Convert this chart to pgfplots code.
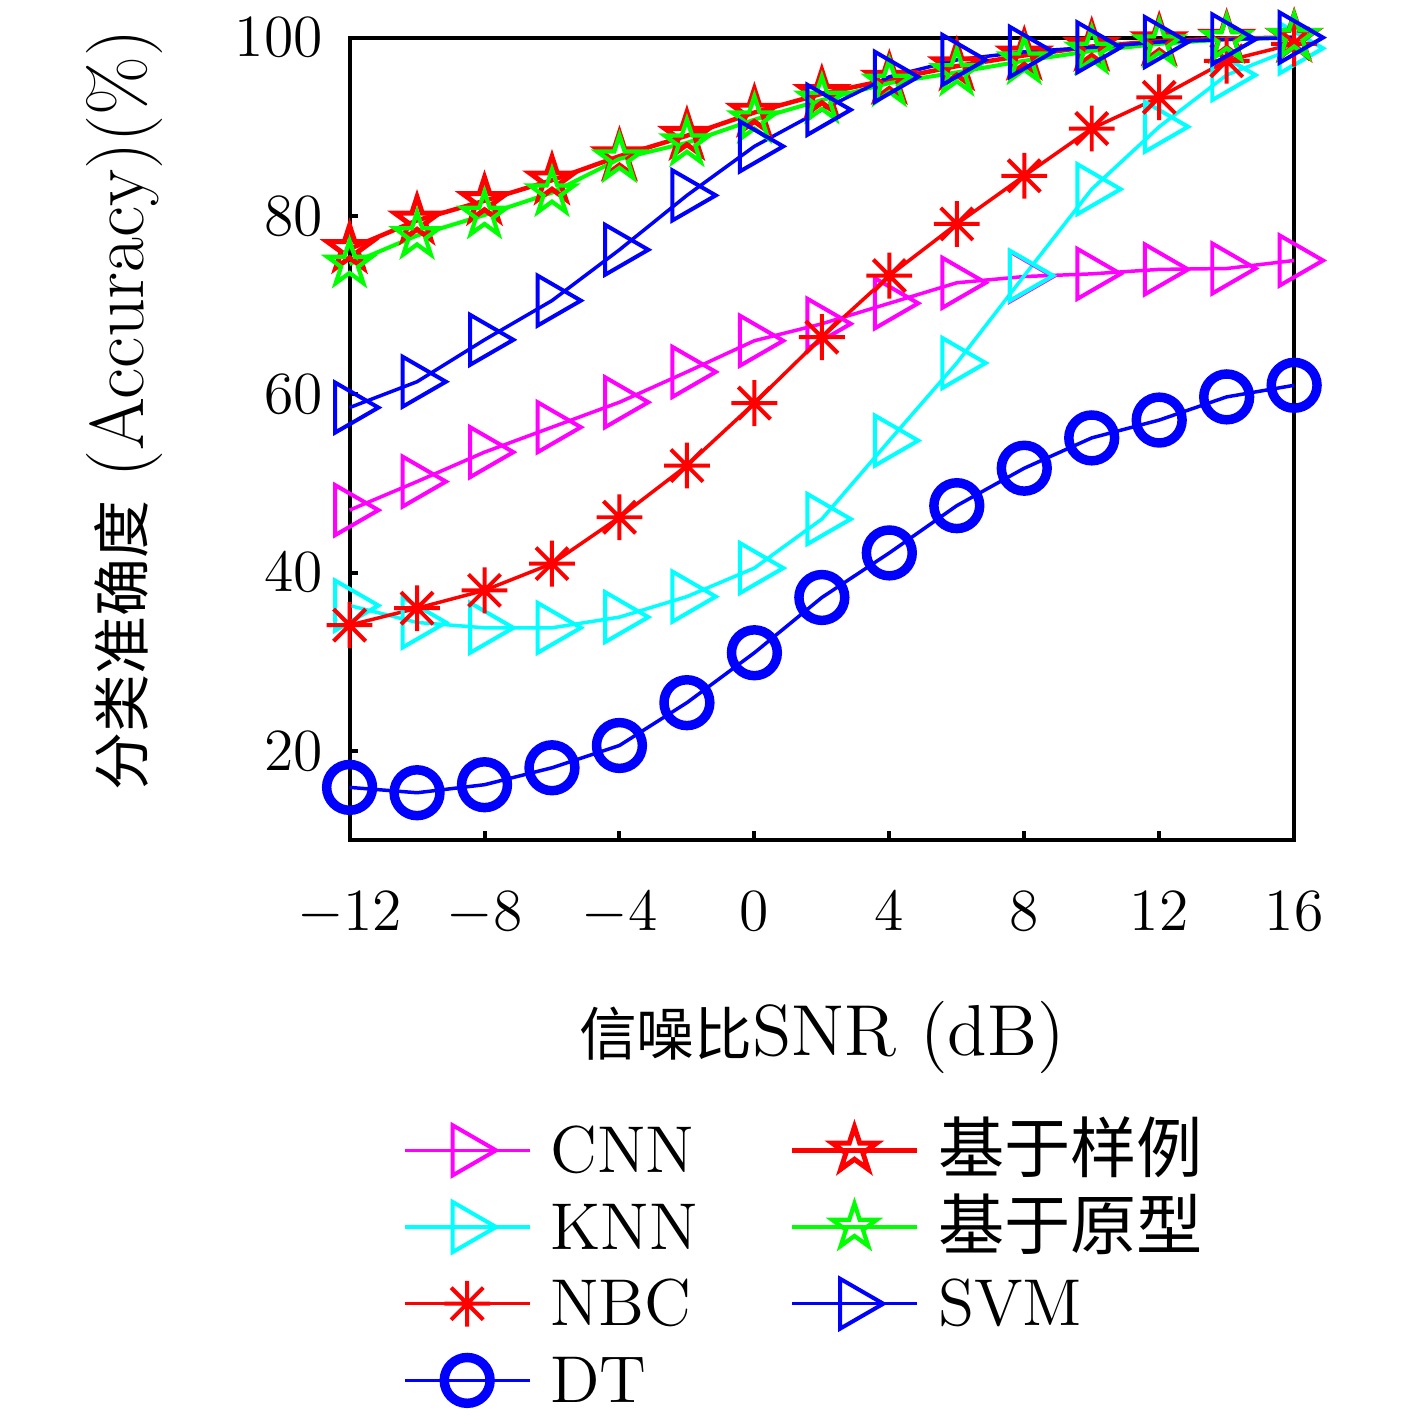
\documentclass[border=0pt]{standalone}
\usepackage{fontspec}
\usepackage{pgfplots}
\pgfplotsset{compat=1.18}
\newfontfamily\cjk{Noto Sans CJK SC}
\newfontfamily\cjks[Scale=0.8]{Noto Sans CJK SC}
\newfontfamily\cjky[Scale=0.76]{Noto Sans CJK SC}
\definecolor{mag}{rgb}{1,0,1}
\definecolor{cyn}{rgb}{0,1,1}
\definecolor{grn}{rgb}{0,1,0}
\definecolor{blu}{rgb}{0,0,1}
\definecolor{rd}{rgb}{1,0,0}

\pgfdeclareplotmark{ast8}{%
  \pgfpathmoveto{\pgfqpoint{-\pgfplotmarksize}{0pt}}\pgfpathlineto{\pgfqpoint{\pgfplotmarksize}{0pt}}%
  \pgfpathmoveto{\pgfqpoint{0pt}{-\pgfplotmarksize}}\pgfpathlineto{\pgfqpoint{0pt}{\pgfplotmarksize}}%
  \pgfpathmoveto{\pgfqpoint{-0.7\pgfplotmarksize}{-0.7\pgfplotmarksize}}\pgfpathlineto{\pgfqpoint{0.7\pgfplotmarksize}{0.7\pgfplotmarksize}}%
  \pgfpathmoveto{\pgfqpoint{-0.7\pgfplotmarksize}{0.7\pgfplotmarksize}}\pgfpathlineto{\pgfqpoint{0.7\pgfplotmarksize}{-0.7\pgfplotmarksize}}%
  \pgfusepathqstroke}

\pgfdeclareplotmark{pent}{%
  \pgfpathmoveto{\pgfqpointpolar{90}{\pgfplotmarksize}}%
  \pgfpathlineto{\pgfqpointpolar{126}{0.382\pgfplotmarksize}}%
  \pgfpathlineto{\pgfqpointpolar{162}{\pgfplotmarksize}}%
  \pgfpathlineto{\pgfqpointpolar{198}{0.382\pgfplotmarksize}}%
  \pgfpathlineto{\pgfqpointpolar{234}{\pgfplotmarksize}}%
  \pgfpathlineto{\pgfqpointpolar{270}{0.382\pgfplotmarksize}}%
  \pgfpathlineto{\pgfqpointpolar{306}{\pgfplotmarksize}}%
  \pgfpathlineto{\pgfqpointpolar{342}{0.382\pgfplotmarksize}}%
  \pgfpathlineto{\pgfqpointpolar{18}{\pgfplotmarksize}}%
  \pgfpathlineto{\pgfqpointpolar{54}{0.382\pgfplotmarksize}}%
  \pgfpathclose
  \pgfusepathqstroke}

\pgfplotsset{
  scnn/.style={mag, line width=0.7pt, mark=triangle, mark size=5.8pt, mark options={rotate=-90, solid, line width=0.8pt}},
  sknn/.style={cyn, line width=0.7pt, mark=triangle, mark size=5.8pt, mark options={rotate=-90, solid, line width=0.8pt}},
  snbc/.style={rd, line width=0.7pt, mark=ast8, mark size=4.6pt, mark options={solid, line width=0.8pt}},
  sdt/.style={blu, line width=0.7pt, mark=o, mark size=4.6pt, mark options={solid, line width=1.9pt}},
  sex/.style={rd, line width=0.9pt, mark=pent, mark size=4.7pt, mark options={solid, line width=1.0pt}},
  spro/.style={grn, line width=0.8pt, mark=pent, mark size=4.7pt, mark options={solid, line width=0.85pt}},
  ssvm/.style={blu, line width=0.7pt, mark=triangle, mark size=5.8pt, mark options={rotate=-90, solid, line width=0.8pt}},
}

\pgfplotstableread{
x y
-12 47.0
-10 50.2
-8 53.5
-6 56.3
-4 59.1
-2 62.5
0 66.0
2 67.9
4 70.2
6 72.5
8 73.2
10 73.5
12 74.0
14 74.1
16 75.0
}\cnn
\pgfplotstableread{
x y
-12 36.3
-10 34.4
-8 33.8
-6 33.8
-4 35.0
-2 37.3
0 40.5
2 46.0
4 54.8
6 63.5
8 73.3
10 83.0
12 90.0
14 95.8
16 98.8
}\knn
\pgfplotstableread{
x y
-12 34.1
-10 36.0
-8 38.0
-6 41.0
-4 46.2
-2 52.0
0 59.0
2 66.4
4 73.3
6 79.1
8 84.5
10 89.8
12 93.3
14 97.4
16 99.3
}\nbc
\pgfplotstableread{
x y
-12 15.9
-10 15.3
-8 16.2
-6 18.1
-4 20.6
-2 25.4
0 31.0
2 37.2
4 42.2
6 47.5
8 51.7
10 55.1
12 57.1
14 59.7
16 61.0
}\dt
\pgfplotstableread{
x y
-12 76.3
-10 79.5
-8 81.7
-6 84.0
-4 86.7
-2 89.0
0 91.6
2 93.7
4 95.3
6 96.8
8 98.0
10 99.0
12 99.6
14 99.9
16 100
}\exem
\pgfplotstableread{
x y
-12 74.6
-10 77.8
-8 80.1
-6 82.6
-4 86.4
-2 88.2
0 90.8
2 93.0
4 94.9
6 96.1
8 97.4
10 98.5
12 99.3
14 99.8
16 100
}\proto
\pgfplotstableread{
x y
-12 58.5
-10 61.4
-8 66.1
-6 70.5
-4 76.2
-2 82.3
0 87.8
2 91.9
4 95.6
6 97.5
8 98.4
10 98.9
12 99.5
14 99.8
16 100
}\svm

\begin{document}
\fontsize{13pt}{15.6pt}\selectfont
\begin{tikzpicture}
\begin{axis}[
  name=ax, at={(0,0)}, anchor=south west,
  scale only axis, width=6.666cm, height=5.663cm,
  xmin=-12, xmax=16, ymin=10, ymax=100,
  xtick={-12,-8,...,16}, ytick={20,40,...,100},
  tick pos=left, tick align=inside, major tick length=0.06cm,
  every tick/.style={black, line width=0.8pt},
  axis line style={line width=0.8pt},
  clip=false,
  xticklabel style={yshift=-0.21cm},
  yticklabel style={xshift=-0.03cm},
  xlabel={{\cjks 信噪比}SNR (dB)},
  xlabel style={font=\fontsize{14.5pt}{17pt}\selectfont, at={(axis description cs:0.5,-0.268)}, anchor=base},
  ylabel={{\cjky 分类准确度} (Accuracy)(\%)},
  ylabel style={font=\fontsize{15.3pt}{18pt}\selectfont, at={(axis description cs:-0.2388,0.536)}, anchor=center},
  legend columns=2, legend cell align=left,
  legend style={font=\fontsize{13.3pt}{16pt}\selectfont, at={(axis description cs:0.0556,-0.3377)}, anchor=north west,
    draw=none, fill=none, inner sep=0pt, row sep=0pt,
    nodes={inner sep=0pt, text height=12.15pt, text depth=3.25pt},
    /tikz/every odd column/.append style={column sep=0.134cm},
    /tikz/every even column/.append style={column sep=0.649cm}},
  legend image code/.code={\draw[mark repeat=2,mark phase=2] plot coordinates {(0cm,0cm) (0.44cm,0cm) (0.88cm,0cm)};},
]
\addplot[scnn, forget plot] table {\cnn};
\addplot[sknn, forget plot] table {\knn};
\addplot[snbc, forget plot] table {\nbc};
\addplot[sdt, forget plot] table {\dt};
\addplot[sex, forget plot] table {\exem};
\addplot[spro, forget plot] table {\proto};
\addplot[ssvm, forget plot] table {\svm};
\addlegendimage{scnn}\addlegendentry{CNN}
\addlegendimage{sex}\addlegendentry{{\cjk 基于样例}}
\addlegendimage{sknn}\addlegendentry{KNN}
\addlegendimage{spro}\addlegendentry{{\cjk 基于原型}}
\addlegendimage{snbc}\addlegendentry{NBC}
\addlegendimage{ssvm}\addlegendentry{SVM}
\addlegendimage{sdt}\addlegendentry{DT}
\end{axis}
\pgfresetboundingbox
\path (-2.467cm,-4.072cm) rectangle ++(10cm,10cm);
\end{tikzpicture}
\end{document}
